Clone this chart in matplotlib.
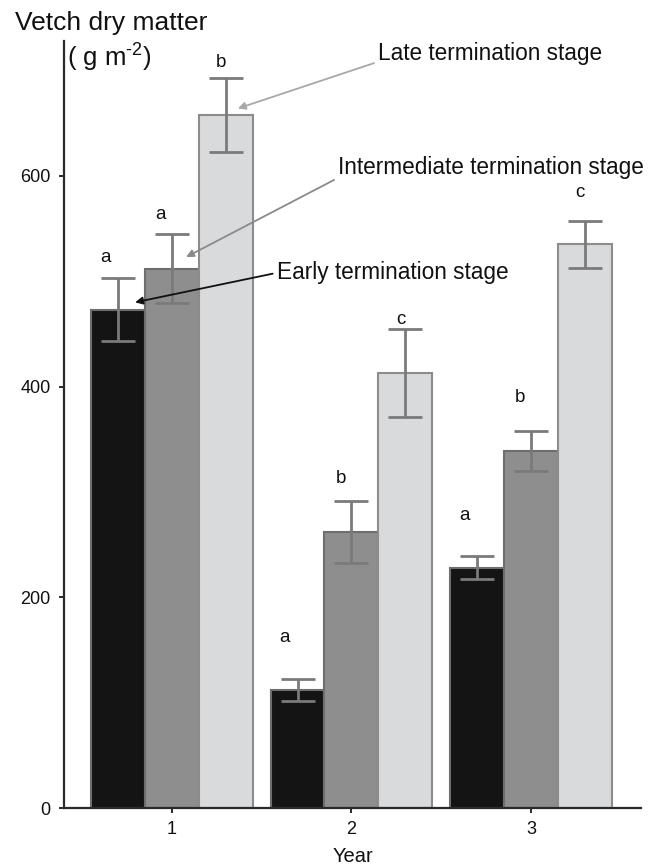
import matplotlib
matplotlib.use("Agg")
import matplotlib.pyplot as plt
import numpy as np

plt.rcParams['font.family'] = ['Liberation Sans', 'DejaVu Sans']
plt.rcParams['mathtext.fontset'] = 'custom'
plt.rcParams['mathtext.rm'] = 'Liberation Sans'
plt.rcParams['mathtext.it'] = 'Liberation Sans:italic'

# ---- data ----
years = [1, 2, 3]
early = [473, 112, 228]
early_err = [30, 10, 11]
intermediate = [512, 262, 339]
intermediate_err = [33, 29, 19]
late = [658, 413, 535]
late_err = [35, 42, 22]
letters_early = ['a', 'a', 'a']
letters_inter = ['a', 'b', 'b']
letters_late = ['b', 'c', 'c']
series_names = ['Early termination stage', 'Intermediate termination stage',
                'Late termination stage']

# ---- layout / style ----
letter_y_early = [523, 162, 278]
letter_y_inter = [563, 313, 390]
letter_y_late = [708, 464, 584]
letter_dx = [-0.07, -0.06, -0.027]

colors = ['#141414', '#8e8e8e', '#d9dadb']
edge = ['#6e6e6e', '#6e6e6e', '#8c8c8c']
width = 0.30

fig = plt.figure(figsize=(6.57, 8.64), dpi=100)
ax = fig.add_axes([0.0974, 0.0648, 0.8782, 0.8877])

x = np.array(years, dtype=float)
vals = [early, intermediate, late]
errs = [early_err, intermediate_err, late_err]
lets = [letters_early, letters_inter, letters_late]
lys = [letter_y_early, letter_y_inter, letter_y_late]
offs = [-width, 0, width]
for i in range(3):
    ax.bar(x + offs[i], vals[i], width, color=colors[i], edgecolor=edge[i],
           linewidth=1.5, zorder=2)
    ax.errorbar(x + offs[i], vals[i], yerr=errs[i], fmt='none',
                ecolor='#7a7a7a', elinewidth=2, capsize=12, capthick=2, zorder=3)
    for j in range(3):
        ax.text(x[j] + offs[i] + letter_dx[i], lys[i][j], lets[i][j],
                ha='center', va='center', fontsize=13.5, color='#111')

ax.set_xlim(0.40, 3.612)
ax.set_ylim(0, 728)
ax.set_xticks(years)
ax.set_xticklabels([str(y) for y in years])
ax.set_yticks([0, 200, 400, 600])
for s in ['top', 'right']:
    ax.spines[s].set_visible(False)
for s in ['left', 'bottom']:
    ax.spines[s].set_color('#2a2a2a')
    ax.spines[s].set_linewidth(1.6)
ax.tick_params(axis='both', length=3.5, width=1.4, color='#2a2a2a',
               labelsize=13, labelcolor='#111', pad=6)
ax.set_xlabel('Year', fontsize=14.5, color='#111', labelpad=6)

fig.text(15 / 657, 1 - 23 / 864, 'Vetch dry matter', fontsize=19,
         ha='left', va='center', color='#111')
fig.text(67 / 657, 1 - 58 / 864, r'( g m$^{\text{-2}}$)', fontsize=18.5,
         ha='left', va='center', color='#111')

# annotations
ann = [
    (series_names[2], (1.368, 664), (2.149, 716), '#a8a8a8', (0, 0.15)),
    (series_names[1], (1.080, 523), (1.926, 608), '#8a8a8a', (0, 0.05)),
    (series_names[0], (0.796, 480), (1.585, 508), '#111111', (0, 0.5)),
]
for txt, xy, xyt, col, rp in ann:
    ax.annotate(txt, xy=xy, xytext=xyt, ha='left', va='center', fontsize=16.3,
                color='#111',
                arrowprops=dict(arrowstyle='-|>', color=col, lw=1.3,
                                mutation_scale=11, shrinkA=1, shrinkB=0,
                                relpos=rp), zorder=5)

fig.savefig('out.png', dpi=100)
